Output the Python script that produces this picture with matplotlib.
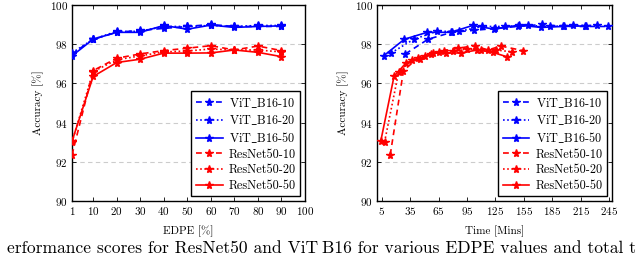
import matplotlib
matplotlib.use("Agg")
import matplotlib.pyplot as plt

plt.rcParams["font.family"] = ["cmr10", "DejaVu Serif"]
plt.rcParams["mathtext.fontset"] = "cm"
plt.rcParams["axes.formatter.use_mathtext"] = True

# --- data --------------------------------------------------------------------
edpe = [1, 10, 20, 30, 40, 50, 60, 70, 80, 90]

vit_10 = [97.50, 98.25, 98.60, 98.70, 98.80, 98.90, 99.00, 98.90, 98.90, 98.90]
vit_20 = [97.55, 98.25, 98.65, 98.65, 98.90, 98.90, 98.95, 98.90, 98.95, 98.95]
vit_50 = [97.40, 98.25, 98.60, 98.60, 98.95, 98.76, 98.97, 98.85, 98.90, 98.93]
res_10 = [92.35, 96.65, 97.28, 97.50, 97.67, 97.79, 97.92, 97.70, 97.90, 97.67]
res_20 = [93.00, 96.60, 97.20, 97.40, 97.60, 97.65, 97.75, 97.70, 97.70, 97.60]
res_50 = [93.05, 96.35, 97.06, 97.23, 97.54, 97.54, 97.55, 97.70, 97.58, 97.36]

# training time [mins] per run
t_vit_10 = [30, 54, 79, 102, 125, 149, 174, 196, 220, 244]
t_vit_20 = [15, 39, 63, 87, 111, 135, 159, 183, 207, 232]
t_vit_50 = [7, 29, 53, 78, 101, 124, 150, 173, 197, 221]
t_res_10 = [14, 28, 43, 57, 71, 86, 103, 117, 131, 154]
t_res_20 = [8, 23, 37, 51, 65, 80, 95, 110, 126, 143]
t_res_50 = [4, 18, 31, 45, 59, 73, 89, 106, 122, 137]

labels = [r"ViT$\_$B16-10", r"ViT$\_$B16-20", r"ViT$\_$B16-50",
          "ResNet50-10", "ResNet50-20", "ResNet50-50"]
edpe_ticks = [1, 10, 20, 30, 40, 50, 60, 70, 80, 90, 100]
time_ticks = [5, 35, 65, 95, 125, 155, 185, 215, 245]
acc_ticks = [90, 92, 94, 96, 98, 100]

DASHED = (0, (3.5, 2.5))
DOTTED = (0, (1, 1.5))
styles = [("blue", DASHED), ("blue", DOTTED), ("blue", "-"),
          ("red", DASHED), ("red", DOTTED), ("red", "-")]


def draw(ax, xs_list, ys_list):
    for xs, ys, (c, ls), lab in zip(xs_list, ys_list, styles, labels):
        ax.plot(xs, ys, color=c, linestyle=ls, linewidth=1.2, marker="*",
                markersize=5.8, label=lab, zorder=3)
    ax.set_ylim(90, 100)
    ax.set_yticks(acc_ticks)
    ax.set_ylabel("Accuracy [%]", fontsize=8, labelpad=4)
    ax.grid(axis="y", color="#cccccc", linestyle=(0, (4, 3)), linewidth=0.8)
    ax.grid(axis="x", visible=False)
    ax.tick_params(direction="in", top=True, right=True, labelsize=8,
                   length=3, width=0.6, pad=3)
    for s in ax.spines.values():
        s.set_linewidth(1.0)
    leg = ax.legend(loc="lower right", fontsize=8.8, frameon=True, fancybox=False,
                    edgecolor="black", framealpha=1, handlelength=2.2,
                    labelspacing=0.28, borderpad=0.35, handletextpad=0.5,
                    borderaxespad=0.4)
    leg.get_frame().set_linewidth(1.0)


fig = plt.figure(figsize=(6.4, 2.57), dpi=100)
ax1 = fig.add_axes([0.1125, 0.218, 0.364, 0.763])
ax2 = fig.add_axes([0.589, 0.218, 0.367, 0.763])

draw(ax1, [edpe] * 6, [vit_10, vit_20, vit_50, res_10, res_20, res_50])
ax1.set_xlim(1, 100)
ax1.set_xticks(edpe_ticks)
ax1.set_xlabel("EDPE [%]", fontsize=8, labelpad=6)

draw(ax2, [t_vit_10, t_vit_20, t_vit_50, t_res_10, t_res_20, t_res_50],
     [vit_10, vit_20, vit_50, res_10, res_20, res_50])
ax2.set_xlim(0, 248)
ax2.set_xticks(time_ticks)
ax2.set_xlabel("Time [Mins]", fontsize=8, labelpad=6)

fig.text(318 / 640, 0.035, "erformance scores for ResNet50 and ViT",
         ha="right", va="center", fontsize=12.6)
fig.text(322 / 640, 0.035, "B16 for various EDPE values and total t",
         ha="left", va="center", fontsize=12.6)

fig.savefig("out.png", dpi=100)
